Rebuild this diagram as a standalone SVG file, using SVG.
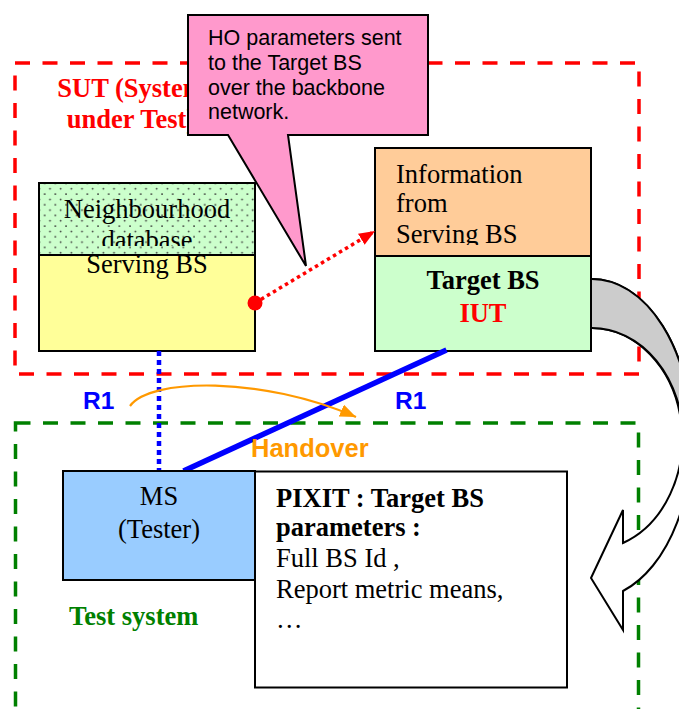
<svg xmlns="http://www.w3.org/2000/svg" width="679" height="709" viewBox="0 0 679 709">
<style>
.serif{font-family:"Liberation Serif","Times New Roman",serif;font-size:26.5px;fill:#000}
.sans{font-family:"Liberation Sans",Arial,sans-serif}
.box{stroke:#000;stroke-width:2}
.b{font-weight:bold}
</style>
<defs>
<pattern id="dots" width="10.67" height="10.67" patternUnits="userSpaceOnUse">
<rect width="10.67" height="10.67" fill="#ccffcc"/>
<circle cx="2" cy="2" r="0.9" fill="#333"/>
<circle cx="7.33" cy="7.33" r="0.9" fill="#333"/>
</pattern>
<marker id="redHead" markerUnits="userSpaceOnUse" markerWidth="18" markerHeight="14" refX="16" refY="6.5" orient="auto">
<path d="M0,0 L16,6.5 L0,13 Z" fill="#ff0000"/>
</marker>
<marker id="orangeHead" markerUnits="userSpaceOnUse" markerWidth="18" markerHeight="14" refX="16" refY="6.5" orient="auto">
<path d="M0,0 L16,6.5 L0,13 Z" fill="#ff9900"/>
</marker>
<clipPath id="clipN"><rect x="39" y="183" width="216" height="63"/></clipPath>
<clipPath id="clipI"><rect x="375" y="148" width="216" height="97"/></clipPath>
</defs>

<g id="sut-boundary">
<rect x="15" y="63" width="624" height="311" fill="none" stroke="#ff0000" stroke-width="3.5" stroke-dasharray="15 12.5"/>
<text class="serif b" x="131" y="97" text-anchor="middle" style="fill:#ff0000">SUT (System</text>
<text class="serif b" x="131" y="128" text-anchor="middle" style="fill:#ff0000">under Test)</text>
</g>

<g id="test-system-boundary">
<rect x="15.5" y="423" width="623" height="330" fill="none" stroke="#008000" stroke-width="3.5" stroke-dasharray="15 12.5"/>
<text class="serif b" x="69" y="625" style="fill:#008000">Test system</text>
</g>

<g id="serving-bs">
<rect class="box" x="39" y="183" width="216" height="72" fill="url(#dots)"/>
<rect class="box" x="39" y="255" width="216" height="96" fill="#ffff99"/>
<g clip-path="url(#clipN)">
<text class="serif" x="147" y="218" text-anchor="middle">Neighbourhood</text>
<text class="serif" x="147" y="249" text-anchor="middle">database</text>
</g>
<text class="serif" x="147" y="273" text-anchor="middle">Serving BS</text>
</g>

<g id="target-bs">
<rect class="box" x="375" y="148" width="216" height="108" fill="#ffcc99"/>
<rect class="box" x="375" y="256" width="216" height="95" fill="#ccffcc"/>
<g clip-path="url(#clipI)">
<text class="serif" x="396" y="183">Information</text>
<text class="serif" x="396" y="212">from</text>
<text class="serif" x="396" y="243">Serving BS</text>
</g>
<text class="serif b" x="483" y="289" text-anchor="middle">Target BS</text>
<text class="serif b" x="483" y="322" text-anchor="middle" style="fill:#ff0000">IUT</text>
</g>

<g id="connectors">
<line x1="159" y1="351" x2="159" y2="471" stroke="#0000ff" stroke-width="4.5" stroke-dasharray="5 4"/>
<line x1="446.5" y1="350" x2="183.5" y2="471" stroke="#0000ff" stroke-width="5.5"/>
<path d="M130,406 C150,378 262,376 356,417" fill="none" stroke="#ff9900" stroke-width="2.2" marker-end="url(#orangeHead)"/>
<text class="sans b" x="83" y="409" font-size="24.5" fill="#0000ff">R1</text>
<text class="sans b" x="395" y="409" font-size="24.5" fill="#0000ff">R1</text>
<text class="sans b" x="251" y="457" font-size="25.5" fill="#ff9900">Handover</text>
</g>

<g id="ms">
<rect class="box" x="63" y="471" width="192" height="109" fill="#99ccff"/>
<text class="serif" x="159" y="505" text-anchor="middle">MS</text>
<text class="serif" x="159" y="538" text-anchor="middle">(Tester)</text>
</g>

<g id="pixit">
<rect class="box" x="255" y="471.5" width="312" height="216" fill="#ffffff"/>
<text class="serif b" x="276" y="507">PIXIT : Target BS</text>
<text class="serif b" x="276" y="536">parameters :</text>
<text class="serif" x="276" y="567">Full BS Id ,</text>
<text class="serif" x="276" y="598">Report metric means,</text>
<text class="serif" x="276" y="628">…</text>
</g>

<g id="callout">
<path d="M188,15 H428 V135 H288 L306,266 L228,135 H188 Z" fill="#ff99cc" stroke="#000" stroke-width="2"/>
<text class="sans" font-size="21.5" x="208" y="45">HO parameters sent</text>
<text class="sans" font-size="21.5" x="208" y="70">to the Target BS</text>
<text class="sans" font-size="21.5" x="208" y="94.5">over the backbone</text>
<text class="sans" font-size="21.5" x="208" y="119">network.</text>
</g>

<g id="ho-transfer">
<line x1="255" y1="303" x2="375" y2="231" stroke="#ff0000" stroke-width="3.5" stroke-dasharray="3.5 3.5" marker-end="url(#redHead)"/>
<circle cx="255" cy="303" r="7.5" fill="#ff0000"/>
</g>

<g id="curved-arrow">
<path d="M592,328 A91,111 0 0 1 623,543 L623,510 L591,578 L623,630 L623,591 A100,160 0 0 0 592,279 Z" fill="#ffffff" stroke="#000" stroke-width="2"/>
<path d="M592,328 A91,111 0 0 1 683,439 L692,439 A100,160 0 0 0 592,279" fill="#cccccc" stroke="#000" stroke-width="2"/>
</g>
</svg>
